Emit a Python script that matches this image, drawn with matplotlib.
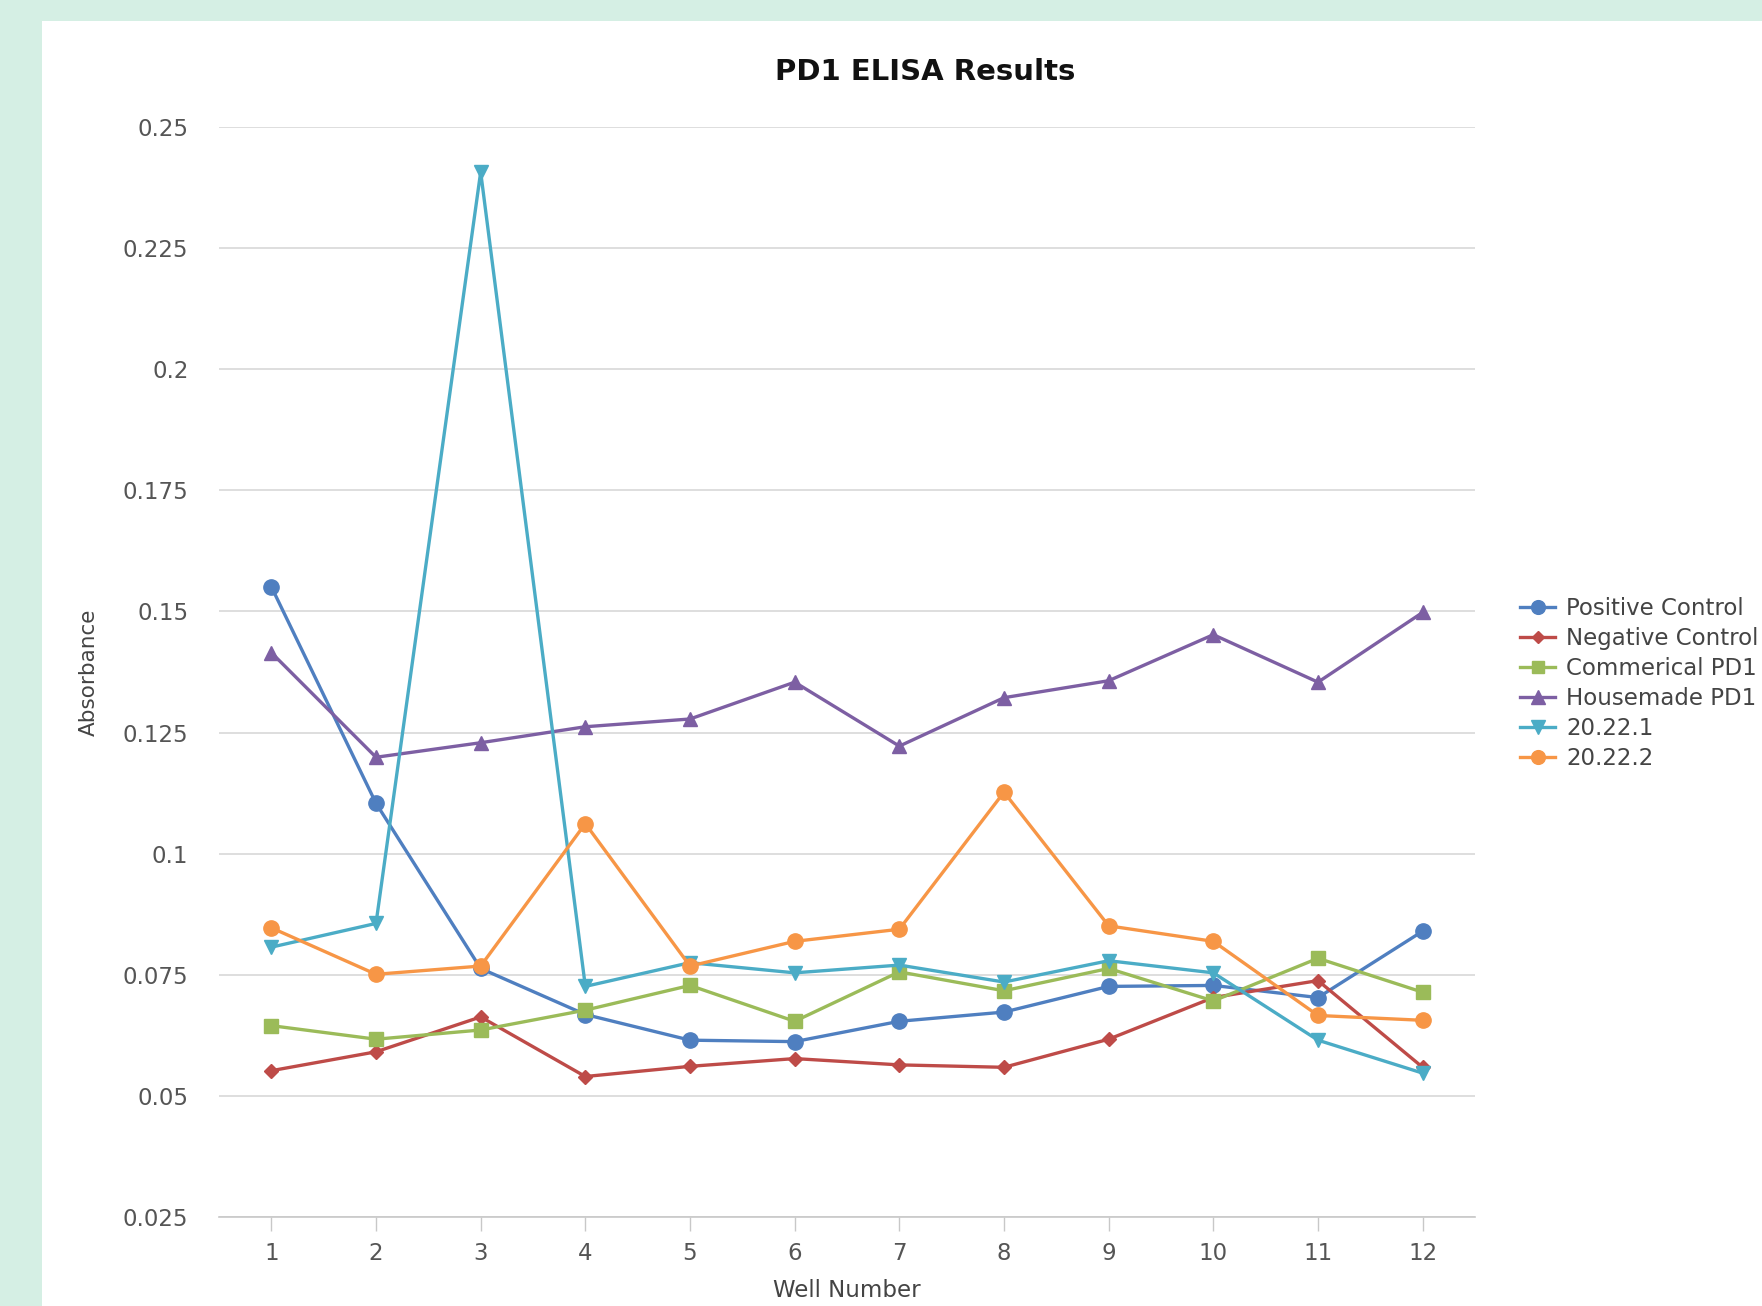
#!/usr/bin/env python3
"""PD1 ELISA 吸光度折线图（Highcharts 风格复刻）。"""
import matplotlib as mpl
import matplotlib.pyplot as plt

mpl.rcParams.update({
    'font.family': ['DejaVu Sans'],
    'font.size': 16,
})

wells = list(range(1, 13))
positive_control = [0.1551, 0.1104, 0.0763, 0.0668, 0.0615, 0.0612, 0.0654, 0.0673, 0.0726, 0.0728, 0.0703, 0.0840]
negative_control = [0.0552, 0.0591, 0.0663, 0.0540, 0.0561, 0.0577, 0.0564, 0.0559, 0.0617, 0.0703, 0.0738, 0.0559]
commercial_pd1   = [0.0645, 0.0617, 0.0636, 0.0677, 0.0728, 0.0654, 0.0756, 0.0717, 0.0763, 0.0696, 0.0784, 0.0714]
housemade_pd1    = [0.1415, 0.1199, 0.1229, 0.1262, 0.1278, 0.1354, 0.1222, 0.1322, 0.1357, 0.1452, 0.1354, 0.1498]
s_20_22_1        = [0.0807, 0.0856, 0.2407, 0.0726, 0.0775, 0.0754, 0.0770, 0.0735, 0.0779, 0.0754, 0.0615, 0.0547]
s_20_22_2        = [0.0847, 0.0751, 0.0768, 0.1062, 0.0768, 0.0819, 0.0844, 0.1127, 0.0851, 0.0819, 0.0666, 0.0656]

names = ['Positive Control', 'Negative Control', 'Commerical PD1', 'Housemade PD1', '20.22.1', '20.22.2']
series = [positive_control, negative_control, commercial_pd1, housemade_pd1, s_20_22_1, s_20_22_2]
colors = ['#4F7FC0', '#BE4B48', '#9BBB59', '#7D5FA3', '#4BACC6', '#F79646']
markers = ['o', 'D', 's', '^', 'v', 'o']
msizes = [11, 7, 10, 10.5, 10.5, 11]

fig = plt.figure(figsize=(17.62, 13.06), dpi=100)
fig.patch.set_facecolor('#D5EFE4')
# 白色面板
fig.add_artist(plt.Rectangle((42 / 1762, 0), 1, 1 - 21 / 1306, transform=fig.transFigure,
                             facecolor='white', edgecolor='none', zorder=0))

ax = fig.add_axes([219 / 1762, 1 - 1217 / 1306, (1475 - 219) / 1762, (1217 - 127) / 1306])
ax.set_facecolor('white')

for name, vals, c, m, ms in zip(names, series, colors, markers, msizes):
    ax.plot(wells, vals, color=c, marker=m, markersize=ms, linewidth=2.4, label=name,
            markeredgecolor=c, clip_on=False, zorder=3)

ax.set_xlim(0.5, 12.5)
ax.set_ylim(0.025, 0.25)
yt = [0.025, 0.05, 0.075, 0.1, 0.125, 0.15, 0.175, 0.2, 0.225, 0.25]
ax.set_yticks(yt)
ax.set_yticklabels(['0.025', '0.05', '0.075', '0.1', '0.125', '0.15', '0.175', '0.2', '0.225', '0.25'])
ax.set_xticks(wells)
ax.grid(axis='y', color='#D8D8D8', linewidth=1.2)
ax.set_axisbelow(True)
for s in ['top', 'right', 'left']:
    ax.spines[s].set_visible(False)
ax.spines['bottom'].set_color('#C8C8C8')
ax.spines['bottom'].set_linewidth(1.2)
ax.tick_params(axis='y', length=0, pad=22, labelcolor='#555555', labelsize=16.5)
ax.tick_params(axis='x', length=10, width=1, color='#C8C8C8', pad=8, labelcolor='#555555', labelsize=16.5)

ax.set_xlabel('Well Number', fontsize=16.5, color='#444444', labelpad=10)
ax.set_ylabel('Absorbance', fontsize=15.5, color='#444444', labelpad=17)
fig.text(925 / 1762, 1 - 72 / 1306, 'PD1 ELISA Results', ha='center', va='center',
         fontsize=21, fontweight='bold', color='#111111')

leg = ax.legend(loc='upper left', bbox_to_anchor=(1509 / 1762, 1 - 586 / 1306),
                bbox_transform=fig.transFigure, frameon=False, fontsize=16.5,
                handlelength=1.5, handletextpad=0.5, labelspacing=0.3, borderpad=0,
                markerscale=0.9)
for t in leg.get_texts():
    t.set_color('#444444')

fig.savefig('out.png', dpi=100)
